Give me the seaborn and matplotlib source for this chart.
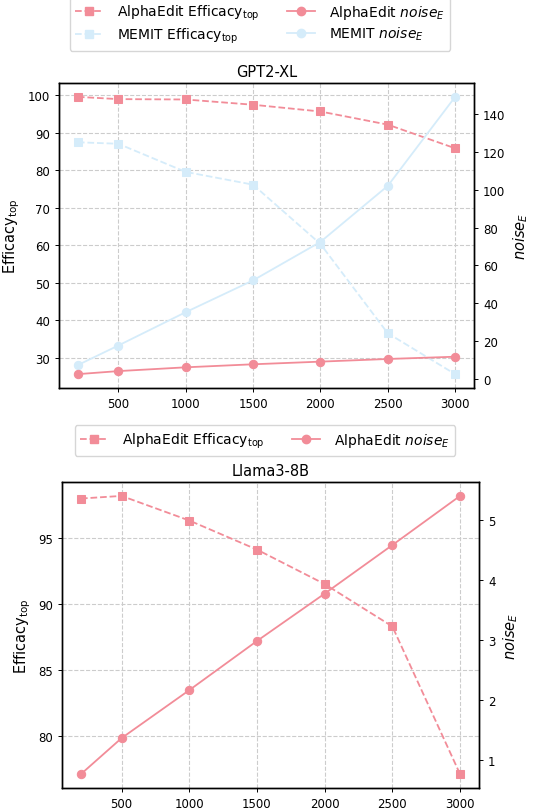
import matplotlib
matplotlib.use('Agg')
import matplotlib.pyplot as plt
import seaborn as sns
import pandas as pd
from matplotlib.lines import Line2D

# ── data ──────────────────────────────────────
edits = [200, 500, 1000, 1500, 2000, 2500, 3000]

gpt_alpha_eff = [99.6, 99.0, 98.9, 97.5, 95.7, 92.2, 85.9]
gpt_memit_eff = [87.5, 87.1, 79.6, 76.2, 60.4, 36.6, 25.7]
gpt_alpha_noise = [2.6, 4.2, 6.2, 7.8, 9.2, 10.6, 11.8]
gpt_memit_noise = [7.4, 17.7, 35.3, 52.1, 72.4, 102.0, 149.0]

llama_alpha_eff = [98.02, 98.22, 96.35, 94.14, 91.52, 88.30, 77.08]
llama_alpha_noise = [0.77, 1.37, 2.17, 2.99, 3.78, 4.59, 5.41]

PINK = '#F28C98'
BLUE = '#D5ECFA'

EFF_LABEL = 'Efficacy$_{\\mathrm{top}}$'
NOISE_LABEL = '$noise_E$'

MS = 6
LW = 1.3

plt.rcParams['xtick.major.size'] = 3
plt.rcParams['ytick.major.size'] = 3
plt.rcParams['xtick.major.width'] = 0.7
plt.rcParams['ytick.major.width'] = 0.7

fig = plt.figure(figsize=(5.35, 8.12), dpi=100)
W, H = 535, 812


def make_axes(left, top, right, bottom):
    return fig.add_axes([left / W, 1 - bottom / H, (right - left) / W, (bottom - top) / H])


def style(ax, axr, title):
    ax.set_title(title, fontsize=10.5, pad=5)
    ax.set_xlabel('')
    ax.set_ylabel(EFF_LABEL, fontsize=10.5, labelpad=4)
    axr.set_ylabel(NOISE_LABEL, fontsize=10.5, labelpad=4)
    ax.set_xticks([500, 1000, 1500, 2000, 2500, 3000])
    ax.grid(True, linestyle='--', color='#cccccc', linewidth=0.8)
    ax.set_axisbelow(True)
    for a in (ax, axr):
        a.tick_params(labelsize=8.5)
        for s in a.spines.values():
            s.set_linewidth(1.0)


def leg_handle(color, ls, marker):
    return Line2D([], [], color=color, linestyle=ls, marker=marker, markersize=MS, linewidth=LW)


# ── GPT2-XL ───────────────────────────────────
ax1 = make_axes(59, 84, 474, 389)
ax1r = ax1.twinx()
df_gpt = pd.DataFrame({'x': edits, 'ae': gpt_alpha_eff, 'me': gpt_memit_eff,
                       'an': gpt_alpha_noise, 'mn': gpt_memit_noise})
sns.lineplot(data=df_gpt, x='x', y='me', ax=ax1, color=BLUE, linestyle='--', marker='s',
             markersize=MS, markeredgecolor=BLUE, linewidth=LW)
sns.lineplot(data=df_gpt, x='x', y='ae', ax=ax1, color=PINK, linestyle='--', marker='s',
             markersize=MS, markeredgecolor=PINK, linewidth=LW)
sns.lineplot(data=df_gpt, x='x', y='mn', ax=ax1r, color=BLUE, linestyle='-', marker='o',
             markersize=MS, markeredgecolor=BLUE, linewidth=LW)
sns.lineplot(data=df_gpt, x='x', y='an', ax=ax1r, color=PINK, linestyle='-', marker='o',
             markersize=MS, markeredgecolor=PINK, linewidth=LW)
style(ax1, ax1r, 'GPT2-XL')

handles = [leg_handle(PINK, '--', 's'), leg_handle(BLUE, '--', 's'),
           leg_handle(PINK, '-', 'o'), leg_handle(BLUE, '-', 'o')]
labels = ['AlphaEdit ' + EFF_LABEL, 'MEMIT ' + EFF_LABEL,
          'AlphaEdit ' + NOISE_LABEL, 'MEMIT ' + NOISE_LABEL]
fig.legend(handles, labels, ncol=2, loc='upper center', bbox_to_anchor=(260 / W, 1.0 + 2 / H),
           fontsize=10, frameon=True, columnspacing=2.0, handlelength=2.0,
           handletextpad=1.0, labelspacing=0.3, borderaxespad=0.0)

# ── Llama3-8B ─────────────────────────────────
ax2 = make_axes(62, 483, 479, 789)
ax2r = ax2.twinx()
df_llama = pd.DataFrame({'x': edits, 'ae': llama_alpha_eff, 'an': llama_alpha_noise})
sns.lineplot(data=df_llama, x='x', y='ae', ax=ax2, color=PINK, linestyle='--', marker='s',
             markersize=MS, markeredgecolor=PINK, linewidth=LW)
sns.lineplot(data=df_llama, x='x', y='an', ax=ax2r, color=PINK, linestyle='-', marker='o',
             markersize=MS, markeredgecolor=PINK, linewidth=LW)
style(ax2, ax2r, 'Llama3-8B')
ax2.set_yticks([80, 85, 90, 95])
ax2r.set_yticks([1, 2, 3, 4, 5])

handles2 = [leg_handle(PINK, '--', 's'), leg_handle(PINK, '-', 'o')]
labels2 = ['AlphaEdit ' + EFF_LABEL, 'AlphaEdit ' + NOISE_LABEL]
fig.legend(handles2, labels2, ncol=2, loc='upper center', bbox_to_anchor=(265 / W, 1 - 426 / H),
           fontsize=10, frameon=True, columnspacing=2.0, handlelength=2.0,
           handletextpad=1.0, labelspacing=0.3, borderaxespad=0.0)

fig.savefig('out.png', dpi=100)
